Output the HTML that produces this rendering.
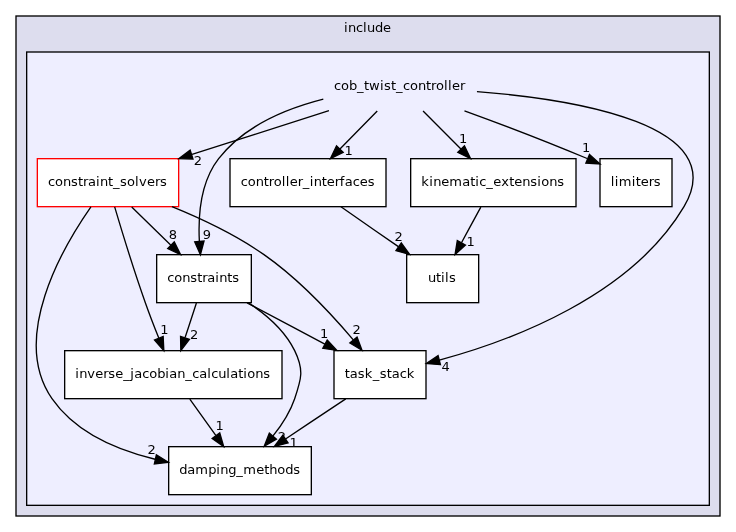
<!DOCTYPE html>
<html lang="en">
<head>
<meta charset="utf-8">
<title>include/cob_twist_controller</title>
<style>
html, body { margin: 0; padding: 0; background: #ffffff; }
body { width: 736px; height: 532px; overflow: hidden; }
svg { display: block; will-change: transform; }
svg text { font-family: "DejaVu Sans", "Liberation Sans", sans-serif; font-size: 13.333px; fill: #000; }
</style>
</head>
<body>
<svg width="736" height="532" viewBox="0 0 736 532">
<g id="graph0" class="graph" transform="scale(1.333333) translate(4 395)">
<polygon fill="white" stroke="none" points="-4,4 -4,-395 548,-395 548,4 -4,4"/>
<g id="clust1" class="cluster">
<rect x="7.5" y="-383.5" width="529" height="376" fill="black"/>
<rect x="8.5" y="-382.5" width="527" height="374" fill="#ddddee"/>
</g>
<g id="clust2" class="cluster">
<rect x="15.5" y="-356.5" width="513" height="341" fill="black"/>
<rect x="16.5" y="-355.5" width="511" height="339" fill="#eeeeff"/>
</g>
<g id="node2" class="node">
<rect x="23.5" y="-276.5" width="107" height="37" fill="red"/>
<rect x="24.5" y="-275.5" width="105" height="35" fill="white"/>
</g>
<g id="edge11" class="edge">
<path fill="none" stroke="black" d="M242.71,-311.97C211.73,-302.06 172.51,-289.53 140.01,-279.14"/>
<polygon fill="black" stroke="black" points="140.74,-275.7 130.15,-275.99 138.61,-282.37 140.74,-275.7"/>
</g>
<g id="node3" class="node">
<rect x="113" y="-204.5" width="72" height="37" fill="black"/>
<rect x="114" y="-203.5" width="70" height="35" fill="white"/>
</g>
<g id="edge10" class="edge">
<path fill="none" stroke="black" d="M238.48,-320.61C210.5,-313.48 178.9,-300.3 160,-276 146.51,-258.66 144.55,-233.4 145.51,-214.22"/>
<polygon fill="black" stroke="black" points="149.02,-214.25 146.31,-204 142.04,-213.69 149.02,-214.25"/>
</g>
<g id="node4" class="node">
<rect x="168" y="-276.5" width="118" height="37" fill="black"/>
<rect x="169" y="-275.5" width="116" height="35" fill="white"/>
</g>
<g id="edge9" class="edge">
<path fill="none" stroke="black" d="M278.94,-311.7C270.5,-303.14 260.18,-292.66 250.96,-283.3"/>
<polygon fill="black" stroke="black" points="253.37,-280.77 243.86,-276.1 248.39,-285.68 253.37,-280.77"/>
</g>
<g id="node7" class="node">
<rect x="303.5" y="-276.5" width="125" height="37" fill="black"/>
<rect x="304.5" y="-275.5" width="123" height="35" fill="white"/>
</g>
<g id="edge8" class="edge">
<path fill="none" stroke="black" d="M313.3,-311.7C321.86,-303.14 332.34,-292.66 341.7,-283.3"/>
<polygon fill="black" stroke="black" points="344.3,-285.65 348.9,-276.1 339.35,-280.7 344.3,-285.65"/>
</g>
<g id="node8" class="node">
<rect x="445.5" y="-276.5" width="55" height="37" fill="black"/>
<rect x="446.5" y="-275.5" width="53" height="35" fill="white"/>
</g>
<g id="edge12" class="edge">
<path fill="none" stroke="black" d="M344.35,-311.93C369.5,-302.8 400.88,-291.02 436.37,-276.12"/>
<polygon fill="black" stroke="black" points="438.14,-279.17 445.98,-272.05 435.41,-272.73 438.14,-279.17"/>
</g>
<g id="node9" class="node">
<rect x="246" y="-132.5" width="70" height="37" fill="black"/>
<rect x="247" y="-131.5" width="68" height="35" fill="white"/>
</g>
<g id="edge13" class="edge">
<path fill="none" stroke="black" d="M353.71,-326.32C428.5,-320.38 545.3,-301.3 509,-240 469.37,-173.08 379.83,-139.62 325.49,-124.89"/>
<polygon fill="black" stroke="black" points="326.34,-121.5 315.78,-122.36 324.57,-128.27 326.34,-121.5"/>
</g>
<g id="edge16" class="edge">
<path fill="none" stroke="black" d="M94.8,-239.7C103.6,-231.14 114.38,-220.66 124,-211.3"/>
<polygon fill="black" stroke="black" points="126.68,-213.58 131.41,-204.1 121.8,-208.57 126.68,-213.58"/>
</g>
<g id="node5" class="node">
<rect x="122" y="-60.5" width="108" height="37" fill="black"/>
<rect x="123" y="-59.5" width="106" height="35" fill="white"/>
</g>
<g id="edge17" class="edge">
<path fill="none" stroke="black" d="M64.18,-239.91C42.43,-208.66 3.59,-141.36 35,-96 52.51,-70.71 83.7,-57.47 112.3,-50.55"/>
<polygon fill="black" stroke="black" points="113.27,-53.92 122.28,-48.35 111.76,-47.08 113.27,-53.92"/>
</g>
<g id="node6" class="node">
<rect x="44" y="-132.5" width="164" height="37" fill="black"/>
<rect x="45" y="-131.5" width="162" height="35" fill="white"/>
</g>
<g id="edge14" class="edge">
<path fill="none" stroke="black" d="M82,-239.82C87.34,-221.8 96.22,-192.73 105,-168 108.09,-159.28 111.73,-149.87 115.09,-141.43"/>
<polygon fill="black" stroke="black" points="118.37,-142.65 118.87,-132.07 111.88,-140.03 118.37,-142.65"/>
</g>
<g id="edge15" class="edge">
<path fill="none" stroke="black" d="M124.98,-239.98C147.03,-231.01 172.9,-218.78 194,-204 219.86,-185.89 244.54,-159.45 260.97,-140.1"/>
<polygon fill="black" stroke="black" points="263.77,-142.21 267.48,-132.28 258.39,-137.73 263.77,-142.21"/>
</g>
<g id="edge7" class="edge">
<path fill="none" stroke="black" d="M182.36,-167.86C195.71,-159.09 209.64,-147.06 217,-132 224.02,-117.62 222.17,-111.14 217,-96 213.56,-85.93 207.34,-76.28 200.77,-68.05"/>
<polygon fill="black" stroke="black" points="203.32,-65.65 194.17,-60.32 198,-70.2 203.32,-65.65"/>
</g>
<g id="edge5" class="edge">
<path fill="none" stroke="black" d="M143.31,-167.7C140.75,-159.9 137.67,-150.51 134.82,-141.83"/>
<polygon fill="black" stroke="black" points="138.07,-140.51 131.62,-132.1 131.42,-142.7 138.07,-140.51"/>
</g>
<g id="edge6" class="edge">
<path fill="none" stroke="black" d="M181.29,-167.88C198.87,-158.55 220.81,-146.92 239.63,-136.94"/>
<polygon fill="black" stroke="black" points="241.39,-139.97 248.59,-132.19 238.11,-133.78 241.39,-139.97"/>
</g>
<g id="node10" class="node">
<rect x="300.5" y="-204.5" width="55" height="37" fill="black"/>
<rect x="301.5" y="-203.5" width="53" height="35" fill="white"/>
</g>
<g id="edge4" class="edge">
<path fill="none" stroke="black" d="M251.71,-239.88C264.67,-230.89 280.73,-219.76 294.77,-210.03"/>
<polygon fill="black" stroke="black" points="296.97,-212.76 303.2,-204.19 292.98,-207.01 296.97,-212.76"/>
</g>
<g id="edge1" class="edge">
<path fill="none" stroke="black" d="M138.36,-95.7C144.23,-87.47 151.37,-77.48 157.84,-68.42"/>
<polygon fill="black" stroke="black" points="160.82,-70.28 163.78,-60.1 155.12,-66.21 160.82,-70.28"/>
</g>
<g id="edge3" class="edge">
<path fill="none" stroke="black" d="M356.61,-239.7C352.24,-231.64 346.94,-221.89 342.1,-212.98"/>
<polygon fill="black" stroke="black" points="345.13,-211.22 337.29,-204.1 338.98,-214.56 345.13,-211.22"/>
</g>
<g id="edge2" class="edge">
<path fill="none" stroke="black" d="M255.31,-95.88C241.71,-86.81 224.83,-75.55 210.14,-65.76"/>
<polygon fill="black" stroke="black" points="212.05,-62.82 201.78,-60.19 208.16,-68.65 212.05,-62.82"/>
</g>
</g>
<g class="labels">
<text transform="translate(344 32) scale(0.98 0.965)" x="0 4.08 12.24 19.39 23.47 31.63 39.8">include</text>
<text transform="translate(334 90) scale(0.98 0.965)" x="0 7.14 15.31 23.47 30.61 35.71 46.94 51.02 58.16 63.27 70.41 77.55 85.71 93.88 98.98 104.08 112.24 116.33 120.41 128.57">cob_twist_controller</text>
<text transform="translate(48 186) scale(0.98 0.965)" x="0 7.14 15.31 23.47 30.61 35.71 40.82 48.98 53.06 61.22 66.33 73.47 80.61 88.78 92.86 101.02 109.18 114.29">constraint_solvers</text>
<text transform="translate(193.75 165) scale(0.98 0.965)">2</text>
<text transform="translate(167.25 282) scale(0.98 0.965)" x="0 7.14 15.31 23.47 30.61 35.71 40.82 48.98 53.06 61.22 66.33">constraints</text>
<text transform="translate(202.75 239) scale(0.98 0.965)">9</text>
<text transform="translate(240.75 186) scale(0.98 0.965)" x="0 7.14 15.31 23.47 28.57 33.67 41.84 45.92 50 58.16 63.27 70.41 74.49 82.65 87.76 95.92 101.02 106.12 114.29 121.43 129.59">controller_interfaces</text>
<text transform="translate(344.5 155) scale(0.98 0.965)">1</text>
<text transform="translate(421.25 186) scale(0.98 0.965)" x="0 8.16 12.24 20.41 28.57 41.84 50 55.1 59.18 66.33 73.47 81.63 89.8 94.9 103.06 111.22 118.37 122.45 130.61 138.78">kinematic_extensions</text>
<text transform="translate(459 143) scale(0.98 0.965)">1</text>
<text transform="translate(610.75 186) scale(0.98 0.965)" x="0 4.08 8.16 21.43 25.51 30.61 38.78 43.88">limiters</text>
<text transform="translate(582 152) scale(0.98 0.965)">1</text>
<text transform="translate(344.75 378) scale(0.98 0.965)" x="0 5.1 13.27 20.41 28.57 35.71 42.86 47.96 56.12 63.27">task_stack</text>
<text transform="translate(441.5 371) scale(0.98 0.965)">4</text>
<text transform="translate(168.75 239) scale(0.98 0.965)">8</text>
<text transform="translate(179.25 474) scale(0.98 0.965)" x="0 8.16 16.33 29.59 37.76 41.84 50 58.16 65.31 78.57 86.73 91.84 100 108.16 116.33">damping_methods</text>
<text transform="translate(147.5 454) scale(0.98 0.965)">2</text>
<text transform="translate(75.25 378) scale(0.98 0.965)" x="0 4.08 12.24 20.41 28.57 33.67 40.82 48.98 56.12 60.2 68.37 75.51 83.67 91.84 95.92 104.08 112.24 119.39 126.53 134.69 138.78 145.92 154.08 158.16 166.33 171.43 175.51 183.67 191.84">inverse_jacobian_calculations</text>
<text transform="translate(160.25 334) scale(0.98 0.965)">1</text>
<text transform="translate(352.5 334) scale(0.98 0.965)">2</text>
<text transform="translate(277.75 441) scale(0.98 0.965)">2</text>
<text transform="translate(190 339) scale(0.98 0.965)">2</text>
<text transform="translate(320 338) scale(0.98 0.965)">1</text>
<text transform="translate(428 282) scale(0.98 0.965)" x="0 8.16 13.27 17.35 21.43">utils</text>
<text transform="translate(394.5 241) scale(0.98 0.965)">2</text>
<text transform="translate(215.5 430) scale(0.98 0.965)">1</text>
<text transform="translate(466.5 246) scale(0.98 0.965)">1</text>
<text transform="translate(289.5 447) scale(0.98 0.965)">1</text>
</g>
</svg>
</body>
</html>
